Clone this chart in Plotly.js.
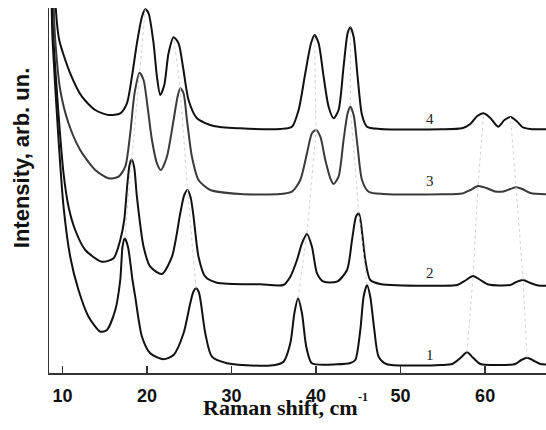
<!DOCTYPE html>
<html>
<head>
<meta charset="utf-8">
<script src="https://cdn.plot.ly/plotly-3.0.1.min.js"></script>
<style>html,body{margin:0;padding:0;background:#fff;}#chart{width:546px;height:430px;}</style>
</head>
<body>
<div id="chart"></div>
<script>
// Raman spectra (arbitrary intensity units, offsets included)
const x1 = [8.60,8.72,8.82,9.53,10.12,10.91,11.89,13.08,14.47,15.25,16.24,16.83,17.10,17.36,17.74,18.28,18.60,19.40,20.38,21.95,23.14,24.32,25.11,25.47,25.79,26.12,26.38,26.89,27.68,29.46,33.40,35.17,36.15,36.95,37.43,37.86,38.33,38.84,39.51,42.47,44.05,44.64,45.23,45.62,46.02,46.41,46.89,47.40,48.39,52.33,54.70,56.12,57.07,57.86,58.60,59.44,61.80,63.57,64.28,64.96,65.70,66.53,67.24];
const y1 = [413,365,333,233,166.3,116.3,83,56.3,41.3,43,63,93,126.3,134.7,126.3,93,76.3,36.3,19.7,13.7,18,39.7,69.7,81,84.7,81,69.7,39.7,16.3,9.7,7.3,8,11.3,29.7,59.7,74.7,59.7,26.3,9.7,8.7,10,13,43,76.3,88,76.3,43,16.3,8.7,7.5,8,9,15,20.7,15,9,8,9,13,15.3,12.5,9,8.5];

const x2 = [8.66,8.78,8.93,9.46,10.12,10.71,11.50,12.69,14.66,16.04,16.83,17.30,17.66,17.93,18.19,18.49,18.80,19.59,20.38,21.76,22.95,23.93,24.40,24.79,25.17,25.50,26.09,26.89,28.27,33.40,36.12,36.95,37.74,38.33,38.92,39.51,40.11,40.89,42.47,43.66,44.25,44.72,45.05,45.31,45.82,46.41,47.60,54.70,56.71,57.66,58.57,59.44,60.38,62.98,63.69,64.49,65.35,66.30,67.24];
const y2 = [413,365,333,266.3,199.7,166.3,143,123,111.3,114.7,133,153,188,208,213.7,205,176.3,126.3,106.3,99,116.3,159.7,178,183,175,156.3,116.3,96.3,90.3,88.7,88,96.3,113,129.7,139,126.3,99.7,91.3,91.3,103,133,156.3,159.7,149.7,113,93,89,87.3,88,92.5,97,93,88.5,88,91,93,90,87.5,87.3];

const x3 = [8.84,8.96,9.14,9.73,10.71,12.09,13.87,15.44,16.63,17.42,18.01,18.52,19.11,19.59,20.06,20.58,21.17,21.64,22.35,23.14,23.61,23.93,24.32,24.72,25.31,26.09,27.48,31.03,35.76,37.15,38.13,38.92,39.51,39.99,40.50,41.09,41.68,42.07,42.66,43.25,43.73,44.05,44.44,44.91,45.43,46.21,47.99,54.70,57.30,58.25,59.16,60.14,61.21,62.15,62.98,63.66,64.40,65.35,67.24];
const y3 = [413,365,333,283,249.7,223,203,194.7,196.3,206.3,239.7,279.7,300.3,293,266.3,233,209.7,203,216.3,253,276.3,284.7,279.7,253,216.3,193,183,179,179,181.3,193,219.7,239.7,243,236.3,213,194.7,189,196.3,233,259.7,266.3,258,226.3,193,181.3,179,178.7,179.5,183,187,185,181.5,181.5,184,185.7,184,180,178.7];

const x4 = [9.05,9.20,9.61,10.91,12.30,13.87,15.44,16.83,17.62,18.21,18.80,19.40,19.79,20.18,20.77,21.17,21.56,22.04,22.54,23.14,23.73,24.25,24.91,25.91,27.87,31.03,35.76,37.15,37.93,38.72,39.40,39.82,40.30,40.89,41.48,42.07,42.66,43.25,43.73,44.05,44.44,44.91,45.43,46.02,47.60,54.80,57.26,58.25,59.07,59.82,60.61,61.53,62.29,63.00,63.71,64.40,65.35,67.24];
const y4 = [413,365,333,299.7,276.3,263,258,259.7,269.7,296.3,329.7,356.3,363.7,359.7,329.7,296.3,278,288,319.7,335.7,329.7,306.3,273,254.7,247,244.7,244,246.3,263,299.7,329.7,338,329.7,296.3,266.3,254.7,263,306.3,339.7,345.7,336.3,296.3,258,246.3,244,243.7,244.7,249,257,259.7,255,246.3,253,256,252,246,244,243.7];

// peak maxima of each spectrum (for the faint guide lines), curves 1..4
const peakX = [
  [17.36,18.19,19.11,19.79],
  [25.79,24.79,23.93,23.14],
  [37.86,38.92,39.99,39.82],
  [46.02,45.05,44.05,44.05],
  [57.86,58.57,59.16,59.82],
  [64.96,64.49,63.66,63.00]
];
const peakY = [
  [134.7,213.7,300.3,363.7],
  [84.7,183,284.7,335.7],
  [74.7,139,243,338],
  [88,159.7,266.3,345.7],
  [20.7,97,187,259.7],
  [15.3,93,185.7,256]
];

const tickValues = [10,20,30,40,50,60];
const curveNames = ['1','2','3','4'];
const labelY = [18,100,192,254];
const labelX = 53.5;

const xs = [x1,x2,x3,x4];
const ys = [y1,y2,y3,y4];
const colors = ['#111','#111','#3a3a3a','#111'];

const traces = [];
peakX.forEach((px,i)=>{
  traces.push({x:px,y:peakY[i],xaxis:'x2',yaxis:'y',mode:'lines',type:'scatter',hoverinfo:'skip',
    line:{color:'#d2d2d2',width:1,dash:'dot'},showlegend:false});
});
xs.forEach((xv,i)=>{
  traces.push({x:xv,y:ys[i],mode:'lines',type:'scatter',name:curveNames[i],
    line:{color:colors[i],width:2,shape:'spline',smoothing:0.7},showlegend:false});
});

const serif = 'Liberation Serif, Times New Roman, serif';
const annotations = curveNames.map((n,i)=>({
  x:labelX,y:labelY[i],xref:'x',yref:'y',text:n,showarrow:false,
  font:{family:serif,size:15,color:'#222'},
  xanchor:'center',yanchor:'middle'
}));
annotations.push({
  x:0.465,y:-0.095,xref:'paper',yref:'paper',showarrow:false,
  text:'Raman shift, cm',
  font:{family:serif,size:22,color:'#111',weight:'bold'},
  xanchor:'center',yanchor:'middle'
});
annotations.push({
  x:0.632,y:-0.066,xref:'paper',yref:'paper',showarrow:false,
  text:'-1',
  font:{family:serif,size:12,color:'#111',weight:'bold'},
  xanchor:'center',yanchor:'middle'
});
annotations.push({
  x:-0.056,y:0.589,xref:'paper',yref:'paper',showarrow:false,textangle:-90,
  text:'Intensity, arb. un.',
  font:{family:'Liberation Sans, Arial, sans-serif',size:22,color:'#111',weight:'bold'},
  xanchor:'center',yanchor:'middle'
});

const layout = {
  width:546,height:430,
  margin:{l:49,r:0,t:8,b:57,pad:0},
  paper_bgcolor:'#fff',plot_bgcolor:'#fff',
  showlegend:false,
  xaxis:{range:[8.4,67.2],tickvals:tickValues,ticks:'outside',ticklen:6,tickwidth:1,
    tickcolor:'rgba(0,0,0,0)',showline:true,linecolor:'#333',linewidth:1.5,showgrid:false,zeroline:false,
    tickfont:{family:'Liberation Sans, Arial, sans-serif',size:18,color:'#111',weight:'bold'}},
  xaxis2:{overlaying:'x',matches:'x',anchor:'y',side:'bottom',range:[8.4,67.2],tickvals:tickValues,
    ticks:'inside',ticklen:7,tickwidth:1.5,tickcolor:'#333',showticklabels:false,showline:false,
    showgrid:false,zeroline:false},
  yaxis:{range:[0,365],showticklabels:false,ticks:'',showline:true,linecolor:'#333',linewidth:1.5,
    showgrid:false,zeroline:false},
  annotations:annotations
};
Plotly.newPlot('chart',traces,layout,{staticPlot:true,displayModeBar:false});
</script>
</body>
</html>
